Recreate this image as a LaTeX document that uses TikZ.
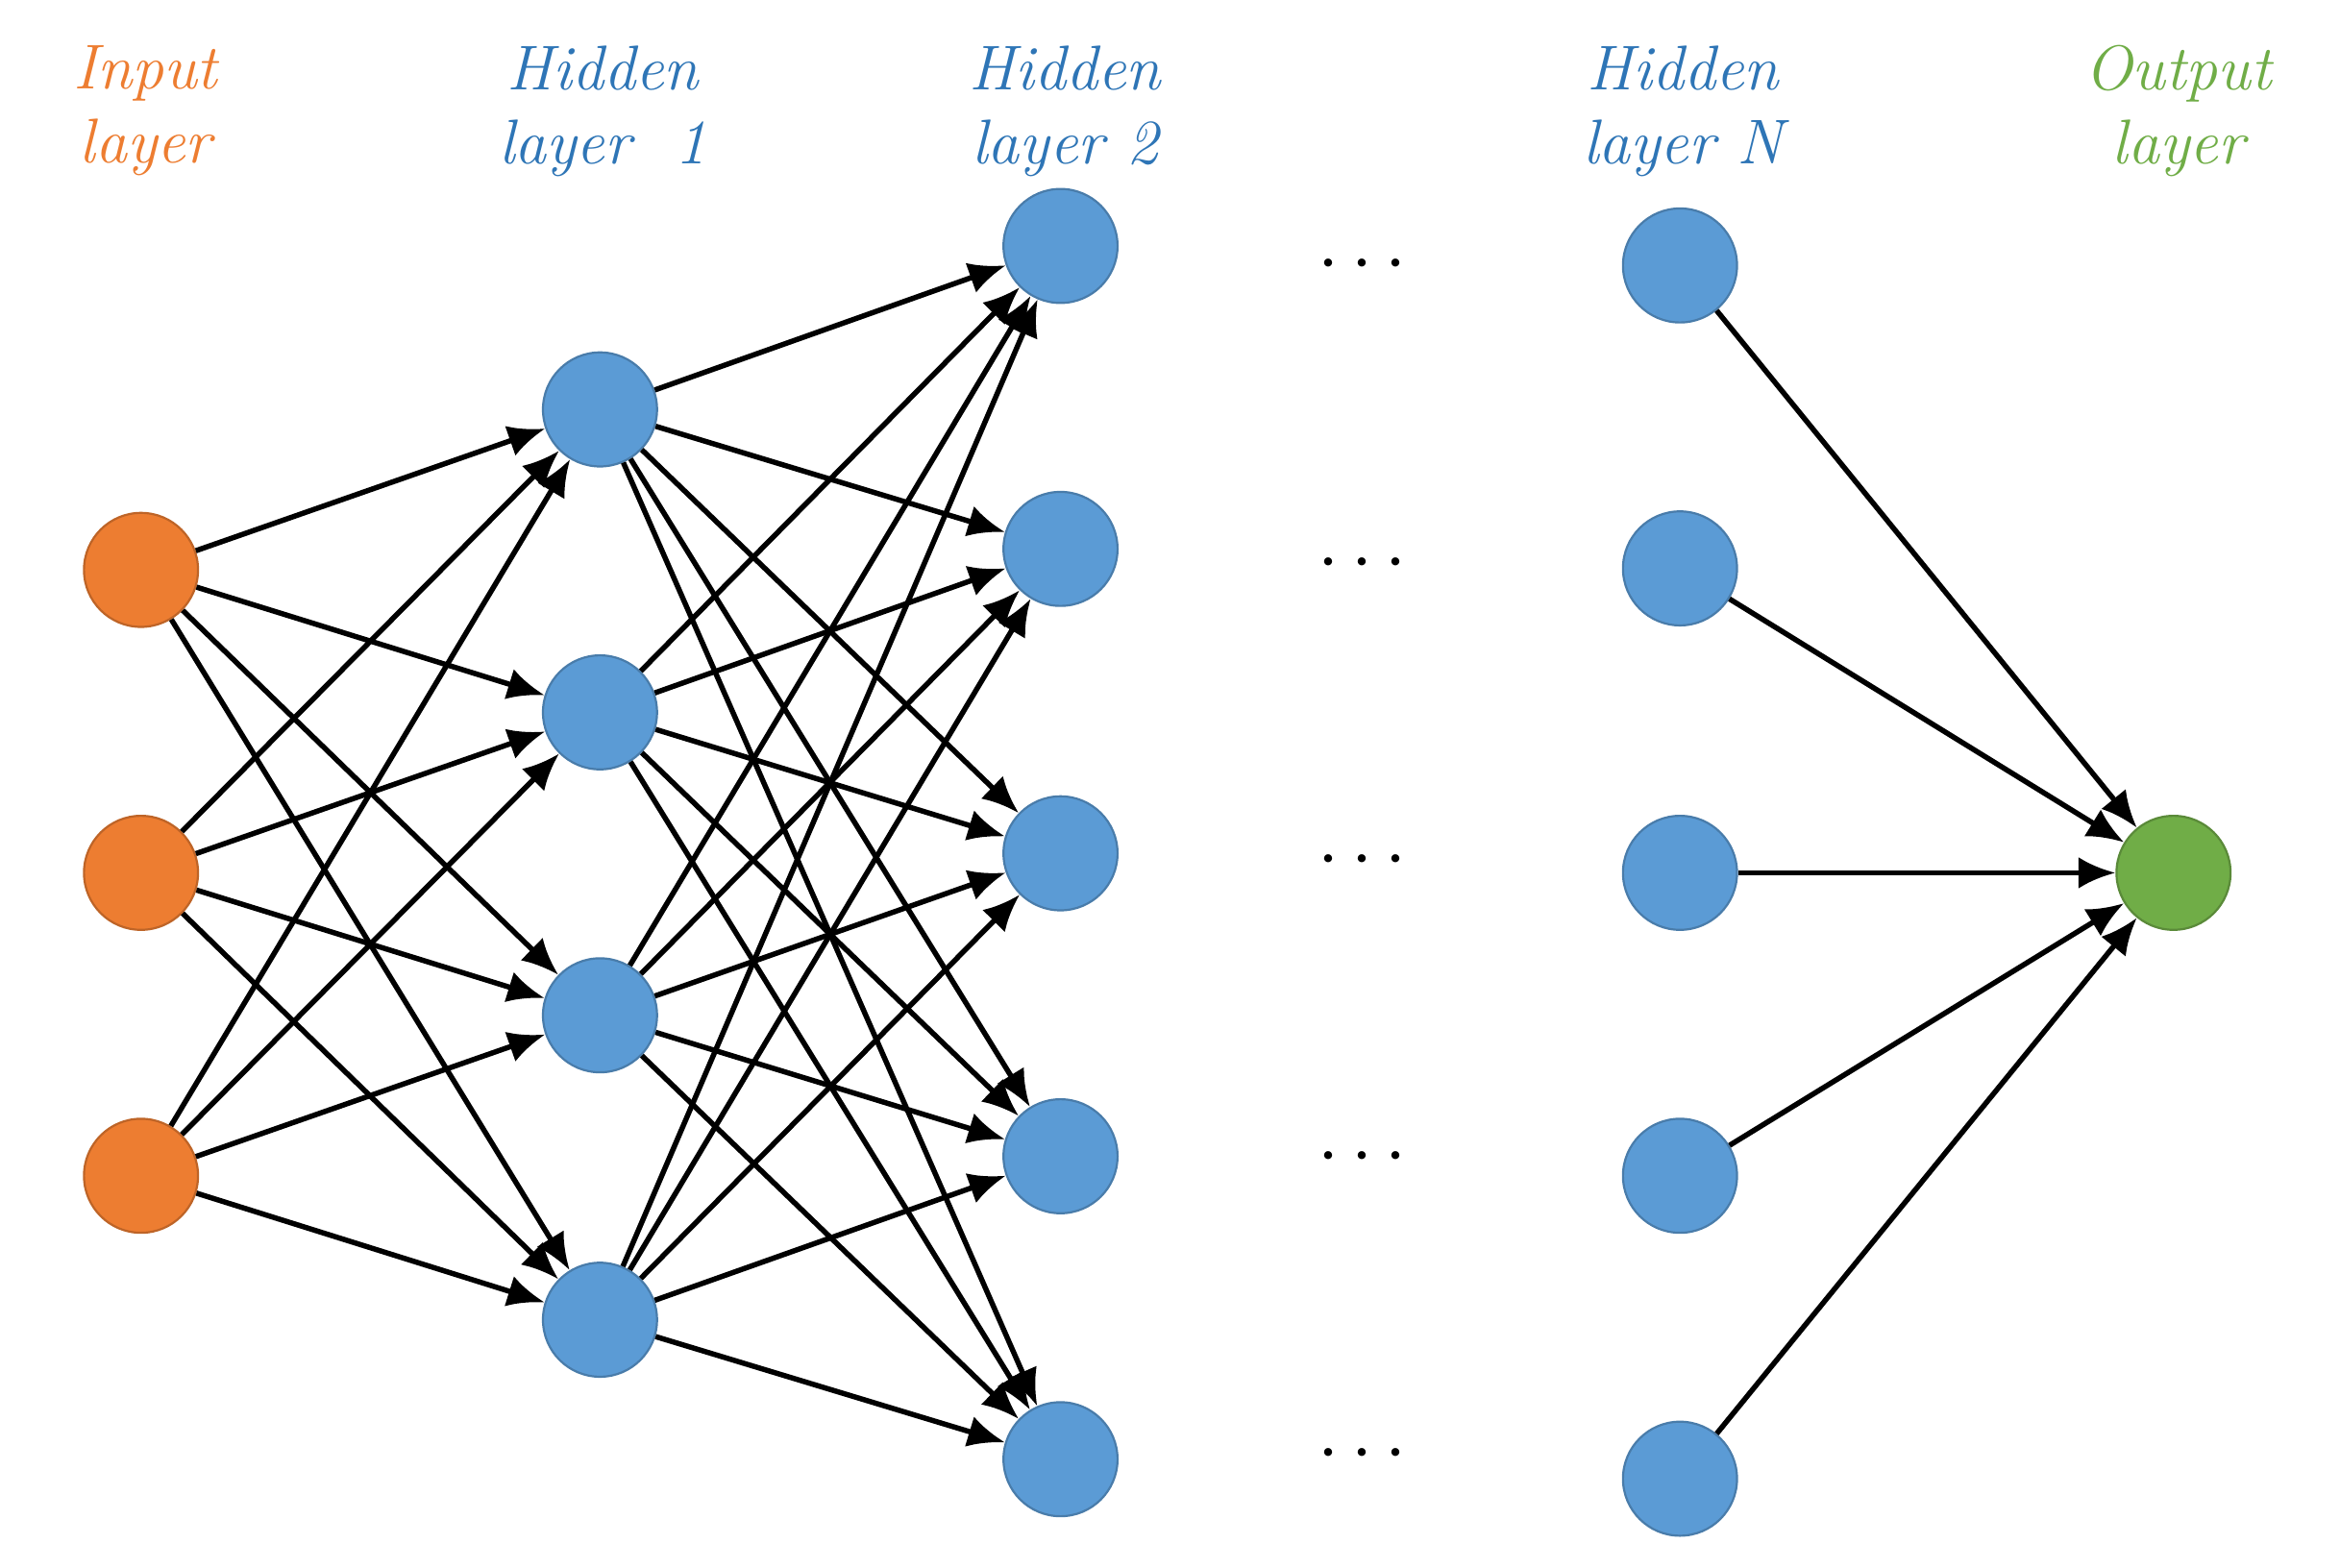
\documentclass[tikz,border=0pt]{standalone}
\usetikzlibrary{arrows.meta}
\definecolor{corange}{HTML}{ED7D31}
\definecolor{cblue}{HTML}{5B9BD5}
\definecolor{cgreen}{HTML}{70AD47}
\definecolor{tblue}{HTML}{2E75B6}
\begin{document}
\begin{tikzpicture}[x=0.01cm,y=-0.01cm,
  neuron/.style={circle,minimum size=0.76cm,inner sep=0pt,line width=0.4pt},
  inp/.style={neuron,fill=corange,draw=corange!80!black},
  hid/.style={neuron,fill=cblue,draw=cblue!80!black},
  outp/.style={neuron,fill=cgreen,draw=cgreen!80!black},
  edge/.style={line width=1pt,-{Latex[length=7pt,width=6pt]}},
  lbl/.style={font=\itshape\fontsize{12}{14}\selectfont,align=center},
  dots/.style={font=\bfseries\Large}]
\useasboundingbox (0,0) rectangle (1560,1045);
\foreach \y [count=\i] in {380,582,784} \node[inp] (i\i) at (94,\y) {};
\foreach \y [count=\i] in {273,475,677,880} \node[hid] (a\i) at (400,\y) {};
\foreach \y [count=\i] in {164,366,569,771,973} \node[hid] (b\i) at (707,\y) {};
\foreach \y [count=\i] in {177,379,582,784,986} \node[hid] (n\i) at (1120,\y) {};
\node[outp] (o) at (1449,582) {};
\foreach \y [count=\i] in {177,376,574,772,970} \node[dots] (d\i) at (908,\y) {$\cdots$};
\foreach \i in {1,2,3} \foreach \j in {1,2,3,4} \draw[edge] (i\i) -- (a\j);
\foreach \i in {1,2,3,4} \foreach \j in {1,2,3,4,5} \draw[edge] (a\i) -- (b\j);
\foreach \i in {1,2,3,4,5} \draw[edge] (n\i) -- (o);
\node[lbl,text=corange] (l1) at (97,74) {Input\\layer};
\node[lbl,text=tblue] (l2) at (402,74) {Hidden\\layer~ 1};
\node[lbl,text=tblue] (l3) at (710,74) {Hidden\\layer 2};
\node[lbl,text=tblue] (l4) at (1122,74) {Hidden\\layer N};
\node[lbl,text=cgreen] (l5) at (1452,74) {Output\\layer};
\end{tikzpicture}
\end{document}
